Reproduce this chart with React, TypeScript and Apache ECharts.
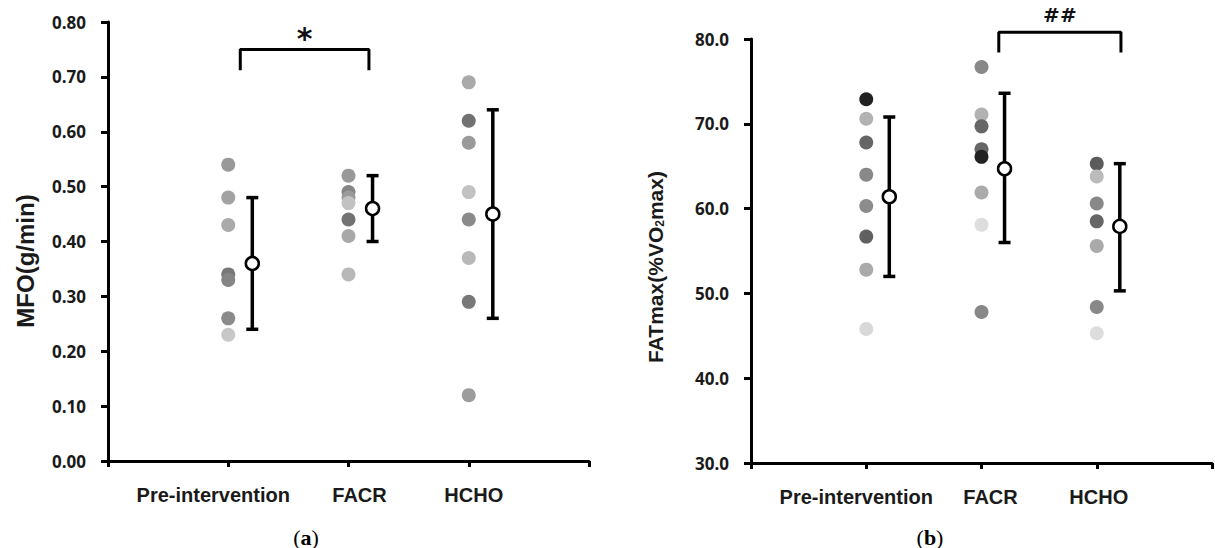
import React, { useEffect, useRef } from "react";
import * as echarts from "echarts";

const CATEGORIES = ["Pre-intervention", "FACR", "HCHO"];

// Panel (a): MFO (g/min)
const MFO_PRE = [0.54, 0.48, 0.43, 0.34, 0.33, 0.26, 0.23];
const MFO_PRE_COLORS = ["#999999", "#a2a2a2", "#aaaaaa", "#777777", "#858585", "#8a8a8a", "#c8c8c8"];
const MFO_FACR = [0.52, 0.49, 0.48, 0.47, 0.44, 0.41, 0.34];
const MFO_FACR_COLORS = ["#999999", "#858585", "#9a9a9a", "#c2c2c2", "#727272", "#a8a8a8", "#b8b8b8"];
const MFO_HCHO = [0.69, 0.62, 0.58, 0.49, 0.44, 0.37, 0.29, 0.12];
const MFO_HCHO_COLORS = ["#aaaaaa", "#727272", "#9a9a9a", "#c2c2c2", "#8a8a8a", "#b8b8b8", "#787878", "#9c9c9c"];
const MFO_MEAN = [0.36, 0.46, 0.45];
const MFO_LOW = [0.24, 0.40, 0.26];
const MFO_HIGH = [0.48, 0.52, 0.64];
const MFO_TICKS = [0, 0.1, 0.2, 0.3, 0.4, 0.5, 0.6, 0.7, 0.8];

// Panel (b): FATmax (%VO2max)
const FAT_PRE = [72.9, 70.6, 67.8, 64.0, 60.3, 56.7, 52.8, 45.8];
const FAT_PRE_COLORS = ["#222222", "#b2b2b2", "#666666", "#888888", "#8c8c8c", "#606060", "#aaaaaa", "#d8d8d8"];
const FAT_FACR = [76.7, 71.1, 69.7, 67.0, 66.1, 61.9, 58.1, 47.8];
const FAT_FACR_COLORS = ["#888888", "#b2b2b2", "#666666", "#666666", "#222222", "#aaaaaa", "#dddddd", "#888888"];
const FAT_HCHO = [65.3, 63.8, 60.6, 58.5, 55.6, 48.4, 45.3];
const FAT_HCHO_COLORS = ["#5c5c5c", "#bbbbbb", "#888888", "#666666", "#aaaaaa", "#888888", "#dddddd"];
const FAT_MEAN = [61.4, 64.7, 57.9];
const FAT_LOW = [52.0, 56.0, 50.3];
const FAT_HIGH = [70.8, 73.6, 65.3];
const FAT_TICKS = [30, 40, 50, 60, 70, 80];

// Significance brackets: [xStart, xEnd, yBar, yFoot], label
const BRACKET_A = [1.1, 2.17, 0.75, 0.712];
const BRACKET_A_LABEL = "*";
const BRACKET_A_LABEL_Y = 0.77;
const BRACKET_B = [2.15, 3.21, 80.8, 78.4];
const BRACKET_B_LABEL = "##";
const BRACKET_B_LABEL_Y = 82.8;

const MEAN_OFFSET = 0.2;
const SANS = "'Liberation Sans', Arial, sans-serif";
const TICKFONT = "'Open Sans', sans-serif";

function dots(values: number[], colors: string[], cat: number, gi: number) {
  return {
    type: "scatter",
    xAxisIndex: gi,
    yAxisIndex: gi,
    symbol: "circle",
    symbolSize: 14,
    z: 2,
    itemStyle: { opacity: 1 },
    data: values.map((v, i) => ({ value: [cat, v], itemStyle: { color: colors[i], opacity: 1 } })),
  };
}

function errorBars(mean: number[], low: number[], high: number[], gi: number) {
  return {
    type: "custom",
    xAxisIndex: gi,
    yAxisIndex: gi,
    z: 3,
    clip: false,
    data: mean.map((_, i) => [i + 1 + MEAN_OFFSET, low[i], high[i]]),
    renderItem: (params: any, api: any) => {
      const x = api.value(0);
      const lo = api.coord([x, api.value(1)]);
      const hi = api.coord([x, api.value(2)]);
      const hw = 6;
      const st = { stroke: "#000", lineWidth: 3.5 };
      return {
        type: "group",
        children: [
          { type: "line", shape: { x1: lo[0], y1: lo[1], x2: hi[0], y2: hi[1] }, style: st },
          { type: "line", shape: { x1: lo[0] - hw, y1: lo[1], x2: lo[0] + hw, y2: lo[1] }, style: st },
          { type: "line", shape: { x1: hi[0] - hw, y1: hi[1], x2: hi[0] + hw, y2: hi[1] }, style: st },
        ],
      };
    },
  };
}

function means(mean: number[], gi: number) {
  return {
    type: "scatter",
    xAxisIndex: gi,
    yAxisIndex: gi,
    symbol: "circle",
    symbolSize: 13,
    z: 5,
    itemStyle: { color: "#ffffff", borderColor: "#000", borderWidth: 2.5, opacity: 1 },
    data: mean.map((m, i) => [i + 1 + MEAN_OFFSET, m]),
  };
}

function bracket(b: number[], label: string, labelY: number, gi: number, fontSize: number, font: string) {
  return [
    {
      type: "line",
      xAxisIndex: gi,
      yAxisIndex: gi,
      clip: false,
      symbol: "none",
      z: 4,
      lineStyle: { color: "#000", width: 3 },
      data: [
        [b[0], b[3]],
        [b[0], b[2]],
        [b[1], b[2]],
        [b[1], b[3]],
      ],
    },
    {
      type: "scatter",
      xAxisIndex: gi,
      yAxisIndex: gi,
      clip: false,
      symbolSize: 0,
      z: 4,
      itemStyle: { color: "#111", opacity: 1 },
      label: {
        show: true,
        position: "inside",
        formatter: label,
        fontFamily: font,
        fontWeight: "bold",
        fontSize,
        color: "#111",
        textBorderWidth: 0,
      },
      data: [[(b[0] + b[1]) / 2, labelY]],
    },
  ];
}

function xAxis(gi: number, pads: number[][]) {
  const rich: any = {};
  pads.forEach((p, i) => {
    rich["c" + (i + 1)] = {
      fontFamily: SANS,
      fontWeight: "bold",
      fontSize: 20,
      color: "#1a1a1a",
      padding: p,
    };
  });
  return {
    type: "value",
    gridIndex: gi,
    min: 0,
    max: 4,
    interval: 1,
    splitLine: { show: false },
    axisLine: { show: true, onZero: false, lineStyle: { color: "#000", width: 3 } },
    axisTick: { show: true, inside: false, length: 6, lineStyle: { color: "#000", width: 3 } },
    axisLabel: {
      margin: 24,
      showMinLabel: true,
      showMaxLabel: true,
      formatter: (v: number) =>
        v >= 1 && v <= CATEGORIES.length ? `{c${v}|${CATEGORIES[v - 1]}}` : "",
      rich,
    },
  };
}

function yAxis(gi: number, ticks: number[], digits: number, margin: number) {
  return {
    type: "value",
    gridIndex: gi,
    min: ticks[0],
    max: ticks[ticks.length - 1],
    interval: ticks[1] - ticks[0],
    splitLine: { show: false },
    axisLine: { show: true, lineStyle: { color: "#000", width: 3 } },
    axisTick: { show: true, inside: false, length: 7, lineStyle: { color: "#000", width: 3 } },
    axisLabel: {
      margin,
      fontFamily: TICKFONT,
      fontWeight: "bold",
      fontSize: 17,
      color: "#1a1a1a",
      formatter: (v: number) => v.toFixed(digits),
    },
  };
}

export default function App() {
  const ref = useRef<HTMLDivElement>(null);
  useEffect(() => {
    if (!ref.current) return;
    const chart = echarts.init(ref.current, null, { renderer: "svg" });
    chart.setOption({
      animation: false,
      backgroundColor: "#ffffff",
      grid: [
        { left: 108, top: 22, width: 481, height: 439 },
        { left: 751, top: 39, width: 463, height: 424 },
      ],
      xAxis: [
        xAxis(0, [[0, 30, 0, 0], [0, 0, 0, 22], [0, 0, 0, 10]]),
        xAxis(1, [[0, 20, 0, 0], [0, 0, 0, 18], [0, 0, 0, 4]]),
      ],
      yAxis: [yAxis(0, MFO_TICKS, 2, 22), yAxis(1, FAT_TICKS, 1, 22)],
      series: [
        dots(MFO_PRE, MFO_PRE_COLORS, 1, 0),
        dots(MFO_FACR, MFO_FACR_COLORS, 2, 0),
        dots(MFO_HCHO, MFO_HCHO_COLORS, 3, 0),
        errorBars(MFO_MEAN, MFO_LOW, MFO_HIGH, 0),
        means(MFO_MEAN, 0),
        ...bracket(BRACKET_A, BRACKET_A_LABEL, BRACKET_A_LABEL_Y, 0, 30, "'DejaVu Sans', sans-serif"),
        dots(FAT_PRE, FAT_PRE_COLORS, 1, 1),
        dots(FAT_FACR, FAT_FACR_COLORS, 2, 1),
        dots(FAT_HCHO, FAT_HCHO_COLORS, 3, 1),
        errorBars(FAT_MEAN, FAT_LOW, FAT_HIGH, 1),
        means(FAT_MEAN, 1),
        ...bracket(BRACKET_B, BRACKET_B_LABEL, BRACKET_B_LABEL_Y, 1, 20, "'DejaVu Sans', sans-serif"),
      ],
      graphic: [
        {
          type: "text",
          x: 25,
          y: 261,
          rotation: Math.PI / 2,
          style: {
            text: "MFO(g/min)",
            fontFamily: SANS,
            fontWeight: "bold",
            fontSize: 24,
            fill: "#1a1a1a",
            align: "center",
            verticalAlign: "middle",
          },
        },
        {
          type: "text",
          x: 655,
          y: 267,
          rotation: Math.PI / 2,
          style: {
            text: "FATmax(%VO{sub|2}max)",
            fontFamily: SANS,
            fontWeight: "bold",
            fontSize: 21,
            fill: "#1a1a1a",
            align: "center",
            verticalAlign: "middle",
            rich: {
              sub: {
                fontFamily: SANS,
                fontWeight: "bold",
                fontSize: 12,
                fill: "#1a1a1a",
                padding: [10, 0, 0, 0],
              },
            },
          },
        },
        {
          type: "text",
          x: 306,
          y: 537,
          style: {
            text: "({b|a})",
            fontFamily: "'Liberation Serif', serif",
            fontSize: 22,
            fill: "#000",
            align: "center",
            verticalAlign: "middle",
            rich: { b: { fontFamily: "'Liberation Serif', serif", fontSize: 22, fontWeight: "bold", fill: "#000" } },
          },
        },
        {
          type: "text",
          x: 930,
          y: 537,
          style: {
            text: "({b|b})",
            fontFamily: "'Liberation Serif', serif",
            fontSize: 22,
            fill: "#000",
            align: "center",
            verticalAlign: "middle",
            rich: { b: { fontFamily: "'Liberation Serif', serif", fontSize: 22, fontWeight: "bold", fill: "#000" } },
          },
        },
      ],
    });
    return () => chart.dispose();
  }, []);
  return (
    <div
      ref={ref}
      style={{ position: "absolute", left: 0, top: 0, width: 1215, height: 548, background: "#fff" }}
    />
  );
}
